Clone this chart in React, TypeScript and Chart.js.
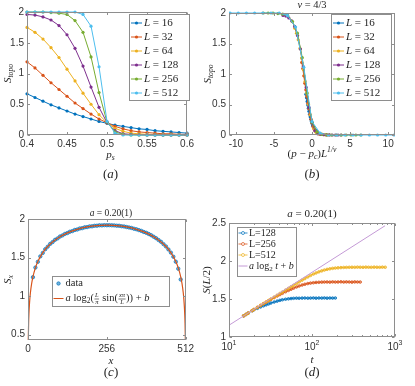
import React, { useEffect, useRef } from 'react';
import { Chart, registerables } from 'chart.js';

Chart.register(...registerables);

// ---------------- data ----------------
const COLORS = ['#0072BD', '#D95319', '#EDB120', '#7E2F8E', '#77AC30', '#4DBEEE'];
const SIZES = [16, 32, 64, 128, 256, 512];

const P_S = [0.40, 0.41, 0.42, 0.43, 0.44, 0.45, 0.46, 0.47, 0.48, 0.49, 0.50, 0.51, 0.52, 0.53, 0.54, 0.55, 0.56, 0.57, 0.58, 0.59, 0.60];
const S_L16 = [0.67, 0.61, 0.55, 0.49, 0.44, 0.39, 0.34, 0.30, 0.26, 0.22, 0.19, 0.16, 0.14, 0.12, 0.10, 0.09, 0.07, 0.06, 0.05, 0.04, 0.03];
const S_L32 = [1.19, 1.09, 0.97, 0.85, 0.74, 0.63, 0.52, 0.43, 0.34, 0.26, 0.20, 0.14, 0.10, 0.07, 0.05, 0.04, 0.03, 0.02, 0.02, 0.01, 0.01];
const S_L64 = [1.75, 1.67, 1.56, 1.42, 1.26, 1.07, 0.88, 0.68, 0.50, 0.33, 0.20, 0.11, 0.06, 0.03, 0.02, 0.01, 0.01, 0.005, 0.005, 0.003, 0.003];
const S_L128 = [1.96, 1.95, 1.92, 1.87, 1.78, 1.63, 1.41, 1.12, 0.78, 0.45, 0.20, 0.07, 0.02, 0.01, 0.004, 0.002, 0.001, 0, 0, 0, 0];
const S_L256 = [2.00, 2.00, 2.00, 1.99, 1.98, 1.96, 1.86, 1.67, 1.27, 0.69, 0.21, 0.05, 0.01, 0.002, 0, 0, 0, 0, 0, 0, 0];
const S_L512 = [2.00, 2.00, 2.00, 2.00, 2.00, 2.00, 2.00, 1.96, 1.77, 1.11, 0.22, 0.03, 0, 0, 0, 0, 0, 0, 0, 0, 0];
const S_TOPO = [S_L16, S_L32, S_L64, S_L128, S_L256, S_L512];

const NU = 4 / 3;
const P_C = 0.5;

const A_X_TICKS = [0.4, 0.45, 0.5, 0.55, 0.6];
const TOPO_Y_TICKS = [0, 0.5, 1, 1.5, 2];
const B_X_TICKS = [-10, -5, 0, 5, 10];

const C_X = [16, 24, 32, 40, 48, 56, 64, 72, 80, 88, 96, 104, 112, 120, 128, 136, 144, 152, 160, 168, 176, 184, 192, 200, 208, 216, 224, 232, 240, 248, 256, 264, 272, 280, 288, 296, 304, 312, 320, 328, 336, 344, 352, 360, 368, 376, 384, 392, 400, 408, 416, 424, 432, 440, 448, 456, 464, 472, 480, 488, 496];
const C_Y = [1.245, 1.370, 1.445, 1.515, 1.560, 1.608, 1.641, 1.677, 1.701, 1.730, 1.748, 1.773, 1.787, 1.807, 1.818, 1.835, 1.843, 1.858, 1.864, 1.877, 1.881, 1.892, 1.895, 1.904, 1.905, 1.912, 1.913, 1.918, 1.917, 1.920, 1.919, 1.920, 1.918, 1.917, 1.913, 1.912, 1.906, 1.903, 1.896, 1.890, 1.884, 1.874, 1.867, 1.856, 1.846, 1.832, 1.821, 1.806, 1.790, 1.770, 1.751, 1.727, 1.704, 1.674, 1.644, 1.605, 1.564, 1.511, 1.446, 1.355, 1.215];
const FIT_X = [0.93, 1, 2, 3, 4, 6, 8, 12, 16, 24, 32, 48, 64, 96, 128, 160, 192, 224, 256, 288, 320, 352, 384, 416, 448, 464, 480, 488, 496, 500, 504, 506, 508, 509, 510, 511, 511.07];
const FIT_Y = [0.429, 0.450, 0.650, 0.767, 0.850, 0.967, 1.050, 1.166, 1.250, 1.366, 1.448, 1.563, 1.643, 1.750, 1.820, 1.866, 1.897, 1.914, 1.920, 1.914, 1.897, 1.866, 1.820, 1.750, 1.643, 1.563, 1.448, 1.366, 1.250, 1.166, 1.050, 0.967, 0.850, 0.767, 0.650, 0.450, 0.429];
const C_X_TICKS = [0, 256, 512];
const C_Y_TICKS = [0.5, 1, 1.5, 2];

const D_SIZES = [128, 256, 512];
const T_STEPS = [15, 16, 17, 19, 20, 22, 24, 26, 28, 30, 32, 35, 38, 41, 44, 48, 52, 56, 60, 65, 70, 76, 82, 89, 96, 104, 112, 121, 131, 141, 152, 164, 177, 191, 206, 223, 241, 260, 281, 303, 327, 353, 381, 412, 445, 480, 518, 560, 605, 653, 705, 762];
const ENT_L128 = [1.278, 1.296, 1.313, 1.346, 1.360, 1.377, 1.395, 1.410, 1.423, 1.435, 1.447, 1.460, 1.472, 1.482, 1.490, 1.497, 1.502, 1.506, 1.509, 1.511, 1.510, 1.512, 1.513, 1.511, 1.512, 1.514, 1.511, 1.513, 1.512, 1.514, 1.511, 1.513, 1.512, 1.513];
const ENT_L256 = [1.278, 1.296, 1.314, 1.347, 1.362, 1.389, 1.414, 1.437, 1.457, 1.476, 1.494, 1.518, 1.539, 1.558, 1.575, 1.595, 1.613, 1.629, 1.643, 1.658, 1.671, 1.684, 1.694, 1.703, 1.709, 1.714, 1.718, 1.720, 1.722, 1.723, 1.724, 1.722, 1.725, 1.723, 1.724, 1.726, 1.723, 1.725, 1.724, 1.722, 1.725, 1.724, 1.723];
const ENT_L512 = [1.278, 1.297, 1.314, 1.348, 1.363, 1.391, 1.417, 1.440, 1.461, 1.481, 1.500, 1.526, 1.550, 1.572, 1.592, 1.617, 1.640, 1.661, 1.680, 1.702, 1.724, 1.748, 1.768, 1.790, 1.810, 1.828, 1.843, 1.857, 1.870, 1.881, 1.890, 1.897, 1.903, 1.907, 1.910, 1.913, 1.915, 1.916, 1.917, 1.918, 1.917, 1.919, 1.918, 1.917, 1.919, 1.918, 1.917, 1.919, 1.918, 1.917, 1.919, 1.918];
const ENT_SERIES = [ENT_L128, ENT_L256, ENT_L512];
const LINE_T = [10, 759];
const LINE_Y = [1.155, 2.464];
const D_X_TICKS = [10, 100, 1000];
const D_X_MINOR = [20, 30, 40, 50, 60, 70, 80, 90, 200, 300, 400, 500, 600, 700, 800, 900];
const D_Y_TICKS = [1, 1.5, 2, 2.5];

// ---------------- styles ----------------
const SERIF = "'Liberation Serif', 'DejaVu Serif', serif";
const SANS = "'Liberation Sans', Arial, sans-serif";
const TXT = '#1f1f1f';
const TICK_TXT = '#333333';
const BOX = '#8e8e8e';
const FIT_PURPLE = '#c49ad6';
const D_FILL = ['rgba(0,114,189,0.45)', 'rgba(217,83,25,0.45)', 'rgba(237,177,32,0.45)'];

type Seg = { t?: string; i?: boolean; sub?: boolean; sup?: boolean; frac?: [string, string] };

function segFont(s: Seg, size: number, family: string) {
  const sz = s.sub || s.sup ? size * 0.7 : size;
  return `${s.i ? 'italic ' : ''}${sz}px ${family}`;
}
function segWidth(ctx: any, s: Seg, size: number, family: string) {
  if (s.frac) {
    ctx.font = `italic ${size * 0.62}px ${family}`;
    return Math.max(ctx.measureText(s.frac[0]).width, ctx.measureText(s.frac[1]).width) + 2;
  }
  ctx.font = segFont(s, size, family);
  return ctx.measureText(s.t || '').width;
}
function drawRich(ctx: any, segs: Seg[], x: number, y: number, size: number, align: string, color: string, family = SERIF) {
  ctx.save();
  ctx.fillStyle = color;
  ctx.strokeStyle = color;
  ctx.textBaseline = 'middle';
  ctx.textAlign = 'left';
  const widths = segs.map((s) => segWidth(ctx, s, size, family));
  const total = widths.reduce((a, b) => a + b, 0);
  let cx = align === 'left' ? x : align === 'center' ? x - total / 2 : x - total;
  segs.forEach((s, k) => {
    const w = widths[k];
    if (s.frac) {
      ctx.font = `italic ${size * 0.62}px ${family}`;
      ctx.textAlign = 'center';
      ctx.fillText(s.frac[0], cx + w / 2, y - size * 0.34);
      ctx.fillText(s.frac[1], cx + w / 2, y + size * 0.4);
      ctx.textAlign = 'left';
      ctx.lineWidth = 0.6;
      ctx.beginPath();
      ctx.moveTo(cx + 0.5, y + 0.5);
      ctx.lineTo(cx + w - 0.5, y + 0.5);
      ctx.stroke();
    } else {
      ctx.font = segFont(s, size, family);
      const dy = s.sub ? size * 0.28 : s.sup ? -size * 0.38 : 0;
      ctx.fillText(s.t || '', cx, y + dy);
    }
    cx += w;
  });
  ctx.restore();
}

function drawLegend(ctx: any, lg: any) {
  ctx.save();
  ctx.fillStyle = '#ffffff';
  ctx.fillRect(lg.x, lg.y, lg.w, lg.h);
  ctx.strokeStyle = BOX;
  ctx.lineWidth = 1;
  ctx.strokeRect(Math.round(lg.x) + 0.5, Math.round(lg.y) + 0.5, Math.round(lg.w), Math.round(lg.h));
  lg.entries.forEach((e: any) => {
    const yy = lg.y + e.y;
    const x0 = lg.x + lg.lineX0;
    const x1 = lg.x + lg.lineX1;
    const mx = (x0 + x1) / 2;
    ctx.strokeStyle = e.color;
    ctx.fillStyle = e.color;
    if (e.kind !== 'dot') {
      ctx.lineWidth = e.kind === 'lineCircle' ? 0.8 : 1;
      ctx.beginPath();
      ctx.moveTo(x0, yy);
      ctx.lineTo(x1, yy);
      ctx.stroke();
    }
    if (e.kind === 'lineDot') {
      ctx.beginPath();
      ctx.arc(mx, yy, 1.6, 0, Math.PI * 2);
      ctx.fill();
    } else if (e.kind === 'dot') {
      ctx.beginPath();
      ctx.arc(mx, yy, 1.7, 0, Math.PI * 2);
      ctx.globalAlpha = 0.55;
      ctx.fill();
      ctx.globalAlpha = 1;
      ctx.lineWidth = 0.7;
      ctx.stroke();
    } else if (e.kind === 'lineCircle') {
      ctx.fillStyle = '#fff';
      ctx.beginPath();
      ctx.arc(mx, yy, 1.5, 0, Math.PI * 2);
      ctx.fill();
      ctx.lineWidth = 0.7;
      ctx.stroke();
    }
    drawRich(ctx, e.segs, lg.x + lg.textX, yy, lg.size, 'left', TXT);
  });
  ctx.restore();
}

function makeOverlay(cfg: any) {
  return {
    id: 'matlabOverlay',
    afterDraw(chart: any) {
      const ctx = chart.ctx;
      const a = chart.chartArea;
      const xs = chart.scales.x;
      const ys = chart.scales.y;
      const L = Math.round(a.left) + 0.5;
      const R = Math.round(a.right) - 0.5;
      const T = Math.round(a.top) + 0.5;
      const B = Math.round(a.bottom) - 0.5;
      ctx.save();
      ctx.strokeStyle = BOX;
      ctx.lineWidth = 1;
      ctx.strokeRect(L, T, R - L, B - T);
      const tl = 2.5;
      const tm = 1.5;
      ctx.beginPath();
      cfg.xTicks.forEach((v: number) => {
        const px = Math.round(xs.getPixelForValue(v)) + 0.5;
        ctx.moveTo(px, B); ctx.lineTo(px, B - tl);
        ctx.moveTo(px, T); ctx.lineTo(px, T + tl);
      });
      (cfg.xMinor || []).forEach((v: number) => {
        const px = Math.round(xs.getPixelForValue(v)) + 0.5;
        ctx.moveTo(px, B); ctx.lineTo(px, B - tm);
        ctx.moveTo(px, T); ctx.lineTo(px, T + tm);
      });
      cfg.yTicks.forEach((v: number) => {
        const py = Math.round(ys.getPixelForValue(v)) + 0.5;
        ctx.moveTo(L, py); ctx.lineTo(L + tl, py);
        ctx.moveTo(R, py); ctx.lineTo(R - tl, py);
      });
      ctx.stroke();
      if (cfg.xLabelSegs) {
        cfg.xTicks.forEach((v: number, k: number) => {
          drawRich(ctx, cfg.xLabelSegs[k], xs.getPixelForValue(v), a.bottom + 10, 10, 'center', TICK_TXT, SANS);
        });
      }
      cfg.texts.forEach((t: any) => {
        if (t.rot) {
          ctx.save();
          ctx.translate(t.x, t.y);
          ctx.rotate(-Math.PI / 2);
          drawRich(ctx, t.segs, 0, 0, t.size, 'center', TXT);
          ctx.restore();
        } else {
          drawRich(ctx, t.segs, t.x, t.y, t.size, 'center', TXT);
        }
      });
      if (cfg.legend) drawLegend(ctx, cfg.legend);
      ctx.restore();
    },
  };
}

function linScale(min: number, max: number, ticks: number[], axis: string, fit: number) {
  return {
    type: 'linear',
    min,
    max,
    grid: { display: false, drawTicks: false },
    border: { display: false },
    afterBuildTicks: (s: any) => { s.ticks = ticks.map((v) => ({ value: v })); },
    afterFit: (s: any) => { if (axis === 'x') s.height = fit; else s.width = fit; },
    ticks: {
      autoSkip: false,
      maxRotation: 0,
      padding: 3,
      color: TICK_TXT,
      font: { family: SANS, size: 10 },
      callback: (v: any) => String(v),
    },
  };
}

const baseOptions = (padding: any) => ({
  responsive: false,
  animation: false,
  events: [],
  layout: { padding },
  plugins: { legend: { display: false }, tooltip: { enabled: false } },
});

const panelSegs = (c: string): Seg[] => [{ t: '(' }, { t: c, i: true }, { t: ')' }];
const S_TOPO_SEGS: Seg[] = [{ t: 'S', i: true }, { t: 'topo', i: true, sub: true }];
const A_TITLE: Seg[] = [{ t: 'a', i: true }, { t: ' = 0.20(1)' }];

const topoLegend = (x: number) => ({
  x, y: 14, w: 60, h: 86, lineX0: 2, lineX1: 13, textX: 15, size: 11,
  entries: SIZES.map((L, k) => ({ color: COLORS[k], kind: 'lineDot', segs: [{ t: 'L', i: true }, { t: ' = ' + L }], y: 9 + 14 * k })),
});

const topoDatasets = (xOf: (k: number, i: number) => number, clip: any) =>
  SIZES.map((L, k) => ({
    label: 'L = ' + L,
    data: P_S.map((p, i) => ({ x: xOf(k, i), y: S_TOPO[k][i] })),
    showLine: true,
    borderColor: COLORS[k],
    backgroundColor: COLORS[k],
    borderWidth: 1,
    pointRadius: 1.6,
    pointBorderWidth: 0,
    pointHoverRadius: 0,
    clip,
  })).reverse();

function configA() {
  return {
    type: 'scatter',
    data: { datasets: topoDatasets((k, i) => P_S[i], 4) },
    options: {
      ...baseOptions({ left: 0, top: 12, right: 3, bottom: 38 }),
      scales: { x: linScale(0.4, 0.6, A_X_TICKS, 'x', 20), y: linScale(0, 2, TOPO_Y_TICKS, 'y', 27) },
    },
    plugins: [makeOverlay({
      xTicks: A_X_TICKS, yTicks: TOPO_Y_TICKS,
      texts: [
        { segs: [{ t: 'p', i: true }, { t: 's', i: true, sub: true }], x: 110.5, y: 155, size: 11 },
        { segs: panelSegs('a'), x: 110.5, y: 175, size: 13 },
        { segs: S_TOPO_SEGS, x: 8, y: 73.5, size: 11, rot: true },
      ],
      legend: topoLegend(129),
    })],
  };
}

function configB() {
  return {
    type: 'scatter',
    data: { datasets: topoDatasets((k, i) => (P_S[i] - P_C) * Math.pow(SIZES[k], 1 / NU), { left: 0, right: 0, top: 4, bottom: 4 }) },
    options: {
      ...baseOptions({ left: 0, top: 13, right: 20, bottom: 38 }),
      scales: { x: linScale(-10.9, 10.9, B_X_TICKS, 'x', 20), y: linScale(0, 2, TOPO_Y_TICKS, 'y', 32) },
    },
    plugins: [makeOverlay({
      xTicks: B_X_TICKS, yTicks: TOPO_Y_TICKS,
      texts: [
        { segs: [{ t: 'ν', i: true }, { t: ' = 4/3' }], x: 115, y: 5.5, size: 10.5 },
        { segs: [{ t: '(' }, { t: 'p', i: true }, { t: ' − ' }, { t: 'p', i: true }, { t: 'c', i: true, sub: true }, { t: ')' }, { t: 'L', i: true }, { t: '1/ν', i: true, sup: true }], x: 115, y: 154, size: 11 },
        { segs: panelSegs('b'), x: 115, y: 175, size: 13 },
        { segs: S_TOPO_SEGS, x: 11, y: 74, size: 11, rot: true },
      ],
      legend: topoLegend(134),
    })],
  };
}

function configC() {
  return {
    type: 'scatter',
    data: {
      datasets: [
        {
          label: 'fit',
          data: FIT_X.map((x, i) => ({ x, y: FIT_Y[i] })),
          showLine: true,
          borderColor: COLORS[1],
          borderWidth: 1.2,
          pointRadius: 0,
          cubicInterpolationMode: 'monotone',
          clip: 2,
        },
        {
          label: 'data',
          data: C_X.map((x, i) => ({ x, y: C_Y[i] })),
          showLine: false,
          borderColor: COLORS[0],
          backgroundColor: 'rgba(0,114,189,0.55)',
          pointRadius: 1.7,
          pointBorderWidth: 0.7,
          pointHoverRadius: 0,
          clip: 3,
        },
      ],
    },
    options: {
      ...baseOptions({ left: 0, top: 26, right: 3, bottom: 26 }),
      scales: { x: linScale(0, 512, C_X_TICKS, 'x', 20), y: linScale(0.43, 2, C_Y_TICKS, 'y', 28) },
    },
    plugins: [makeOverlay({
      xTicks: C_X_TICKS, yTicks: C_Y_TICKS,
      texts: [
        { segs: A_TITLE, x: 111, y: 20, size: 9.5 },
        { segs: [{ t: 'x', i: true }], x: 111, y: 168, size: 11 },
        { segs: panelSegs('c'), x: 111, y: 180, size: 13 },
        { segs: [{ t: 'S', i: true }, { t: 'x', i: true, sub: true }], x: 8, y: 86.5, size: 11, rot: true },
      ],
      legend: {
        x: 52, y: 83, w: 117, h: 30, lineX0: 1.5, lineX1: 11.5, textX: 13.5, size: 10.5,
        entries: [
          { color: COLORS[0], kind: 'dot', segs: [{ t: 'data' }], y: 7.5 },
          {
            color: COLORS[1], kind: 'line', y: 22.5,
            segs: [{ t: 'a', i: true }, { t: ' log' }, { t: '2', sub: true }, { t: '(' }, { frac: ['L', 'π'] }, { t: ' sin(' }, { frac: ['xπ', 'L'] }, { t: ')) + ' }, { t: 'b', i: true }],
          },
        ],
      },
    })],
  };
}

function configD() {
  const seriesColors = [COLORS[0], COLORS[1], COLORS[2]];
  const sets: any[] = D_SIZES.map((L, k) => ({
    label: 'L=' + L,
    data: ENT_SERIES[k].map((y, i) => ({ x: T_STEPS[i], y })),
    showLine: true,
    borderColor: seriesColors[k],
    backgroundColor: D_FILL[k],
    borderWidth: 1,
    pointRadius: 1.3,
    pointBorderWidth: 0.8,
    pointHoverRadius: 0,
    clip: 3,
  }));
  sets.push({
    label: 'fit',
    data: LINE_T.map((x, i) => ({ x, y: LINE_Y[i] })),
    showLine: true,
    borderColor: FIT_PURPLE,
    borderWidth: 1,
    pointRadius: 0,
    clip: 2,
  });
  return {
    type: 'scatter',
    data: { datasets: sets.reverse() },
    options: {
      ...baseOptions({ left: 0, top: 30, right: 20, bottom: 29 }),
      scales: {
        x: {
          type: 'logarithmic', min: 10, max: 1000,
          grid: { display: false, drawTicks: false },
          border: { display: false },
          afterBuildTicks: (s: any) => { s.ticks = D_X_TICKS.map((v) => ({ value: v })); },
          afterFit: (s: any) => { s.height = 20; },
          ticks: { display: false, autoSkip: false },
        },
        y: linScale(1, 2.5, D_Y_TICKS, 'y', 32),
      },
    },
    plugins: [makeOverlay({
      xTicks: D_X_TICKS, xMinor: D_X_MINOR, yTicks: D_Y_TICKS,
      xLabelSegs: D_X_TICKS.map((v) => [{ t: '10' }, { t: String(Math.round(Math.log10(v))), sup: true }]),
      texts: [
        { segs: A_TITLE, x: 115, y: 21, size: 11 },
        { segs: [{ t: 't', i: true }], x: 115, y: 167, size: 11 },
        { segs: panelSegs('d'), x: 115, y: 180, size: 13 },
        { segs: [{ t: 'S', i: true }, { t: '(' }, { t: 'L', i: true }, { t: '/2)' }], x: 10, y: 87, size: 11, rot: true },
      ],
      legend: {
        x: 40, y: 34, w: 59, h: 49, lineX0: 1.5, lineX1: 10.5, textX: 12, size: 10,
        entries: [
          ...D_SIZES.map((L, k) => ({ color: seriesColors[k], kind: 'lineCircle', segs: [{ t: 'L=' + L }], y: 6 + 11 * k })),
          { color: FIT_PURPLE, kind: 'line', segs: [{ t: 'a', i: true }, { t: ' log' }, { t: '2', sub: true }, { t: ' ' }, { t: 't', i: true }, { t: ' + ' }, { t: 'b', i: true }], y: 39 },
        ],
      },
    })],
  };
}

function Panel({ left, top, width, height, make }: any) {
  const ref = useRef<HTMLCanvasElement>(null);
  useEffect(() => {
    const chart = new Chart(ref.current as any, make());
    return () => chart.destroy();
  }, []);
  return (
    <canvas
      ref={ref}
      width={width}
      height={height}
      style={{ position: 'absolute', left, top, width, height }}
    />
  );
}

export default function App() {
  return (
    <div style={{ position: 'absolute', left: 0, top: 0, width: 415, height: 386, background: '#ffffff', overflow: 'hidden' }}>
      <Panel left={0} top={0} width={197} height={193} make={configA} />
      <Panel left={197} top={0} width={218} height={193} make={configB} />
      <Panel left={0} top={193} width={197} height={193} make={configC} />
      <Panel left={197} top={193} width={218} height={193} make={configD} />
    </div>
  );
}
